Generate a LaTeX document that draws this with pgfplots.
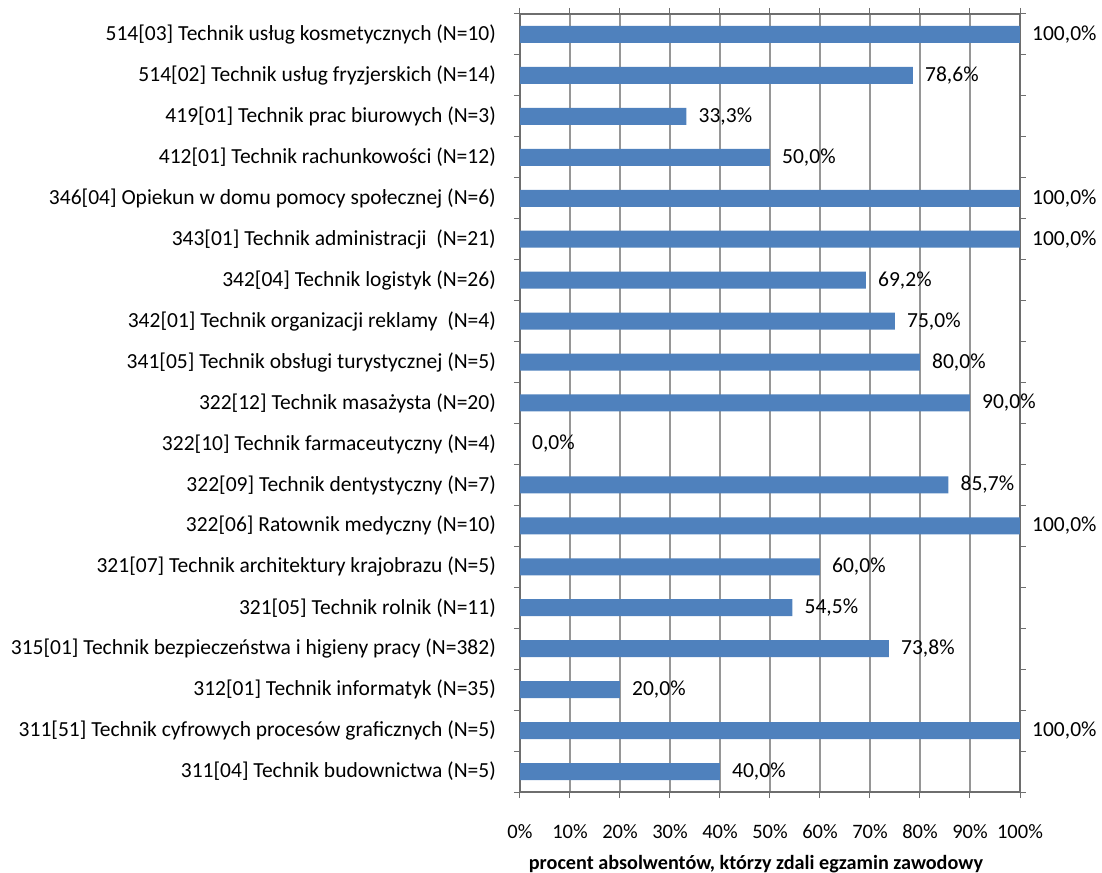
\documentclass[border=0pt]{standalone}
\usepackage{pgfplots}
\pgfplotsset{compat=1.18}
\usepackage{fontspec}
\setmainfont{Carlito}
\definecolor{barblue}{RGB}{79,129,189}
\definecolor{gridgray}{RGB}{150,150,150}
\definecolor{axisgray}{RGB}{110,110,110}
\begin{document}
\fontsize{18bp}{21bp}\selectfont
\begin{tikzpicture}
\useasboundingbox (-520bp,-81bp) rectangle (582bp,792bp);
\begin{axis}[
  at={(0,0)}, anchor=south west,
  scale only axis,
  width=500bp, height=778bp,
  xbar, bar width=17bp,
  xmin=0, xmax=100,
  ymin=-0.5, ymax=18.5,
  /pgf/number format/assume math mode=true,
  xtick={0,10,...,100},
  xticklabels={0\%,10\%,20\%,30\%,40\%,50\%,60\%,70\%,80\%,90\%,100\%},
  ytick={0,...,18},
  yticklabels={
    311[04] Technik budownictwa (N=5),
    311[51] Technik cyfrowych procesów graficznych (N=5),
    312[01] Technik informatyk (N=35),
    315[01] Technik bezpieczeństwa i higieny pracy (N=382),
    321[05] Technik rolnik (N=11),
    321[07] Technik architektury krajobrazu (N=5),
    322[06] Ratownik medyczny (N=10),
    322[09] Technik dentystyczny (N=7),
    322[10] Technik farmaceutyczny (N=4),
    322[12] Technik masażysta (N=20),
    341[05] Technik obsługi turystycznej (N=5),
    342[01] Technik organizacji reklamy\ \ (N=4),
    342[04] Technik logistyk (N=26),
    343[01] Technik administracji\ \ (N=21),
    346[04] Opiekun w domu pomocy społecznej (N=6),
    412[01] Technik rachunkowości (N=12),
    419[01] Technik prac biurowych (N=3),
    514[02] Technik usług fryzjerskich (N=14),
    514[03] Technik usług kosmetycznych (N=10)},
  minor ytick={-0.5,0.5,...,18.5},
  major y tick style={draw=none},
  minor y tick style={draw=axisgray, line width=1pt},
  x tick style={draw=axisgray, line width=1pt},
  tick align=outside,
  major tick length=6bp, minor tick length=6bp,
  xmajorgrids, major x grid style={draw=gridgray, line width=1.3pt},
  axis line style={draw=axisgray, line width=1.3pt},
  xticklabel style={yshift=-20bp, font=\fontsize{20.5bp}{23bp}\selectfont},
  yticklabel style={xshift=-12bp, font=\fontsize{21.5bp}{24bp}\selectfont},
  xlabel={\bfseries procent absolwentów, którzy zdali egzamin zawodowy},
  xlabel style={yshift=-5bp, xshift=-14bp, font=\fontsize{20.2bp}{23bp}\selectfont},
  nodes near coords={\pgfmathprintnumber[fixed,fixed zerofill,precision=1,use comma]{\pgfplotspointmeta}\%},
  every node near coord/.append style={anchor=west, xshift=6bp, text=black, font=\fontsize{21.5bp}{24bp}\selectfont},
]
\addplot[fill=barblue, draw=none] coordinates {
 (40.0,0) (100.0,1) (20.0,2) (73.8,3) (54.5,4) (60.0,5) (100.0,6) (85.7,7) (0.0,8) (90.0,9)
 (80.0,10) (75.0,11) (69.2,12) (100.0,13) (100.0,14) (50.0,15) (33.3,16) (78.6,17) (100.0,18)};
\end{axis}
\end{tikzpicture}
\end{document}
